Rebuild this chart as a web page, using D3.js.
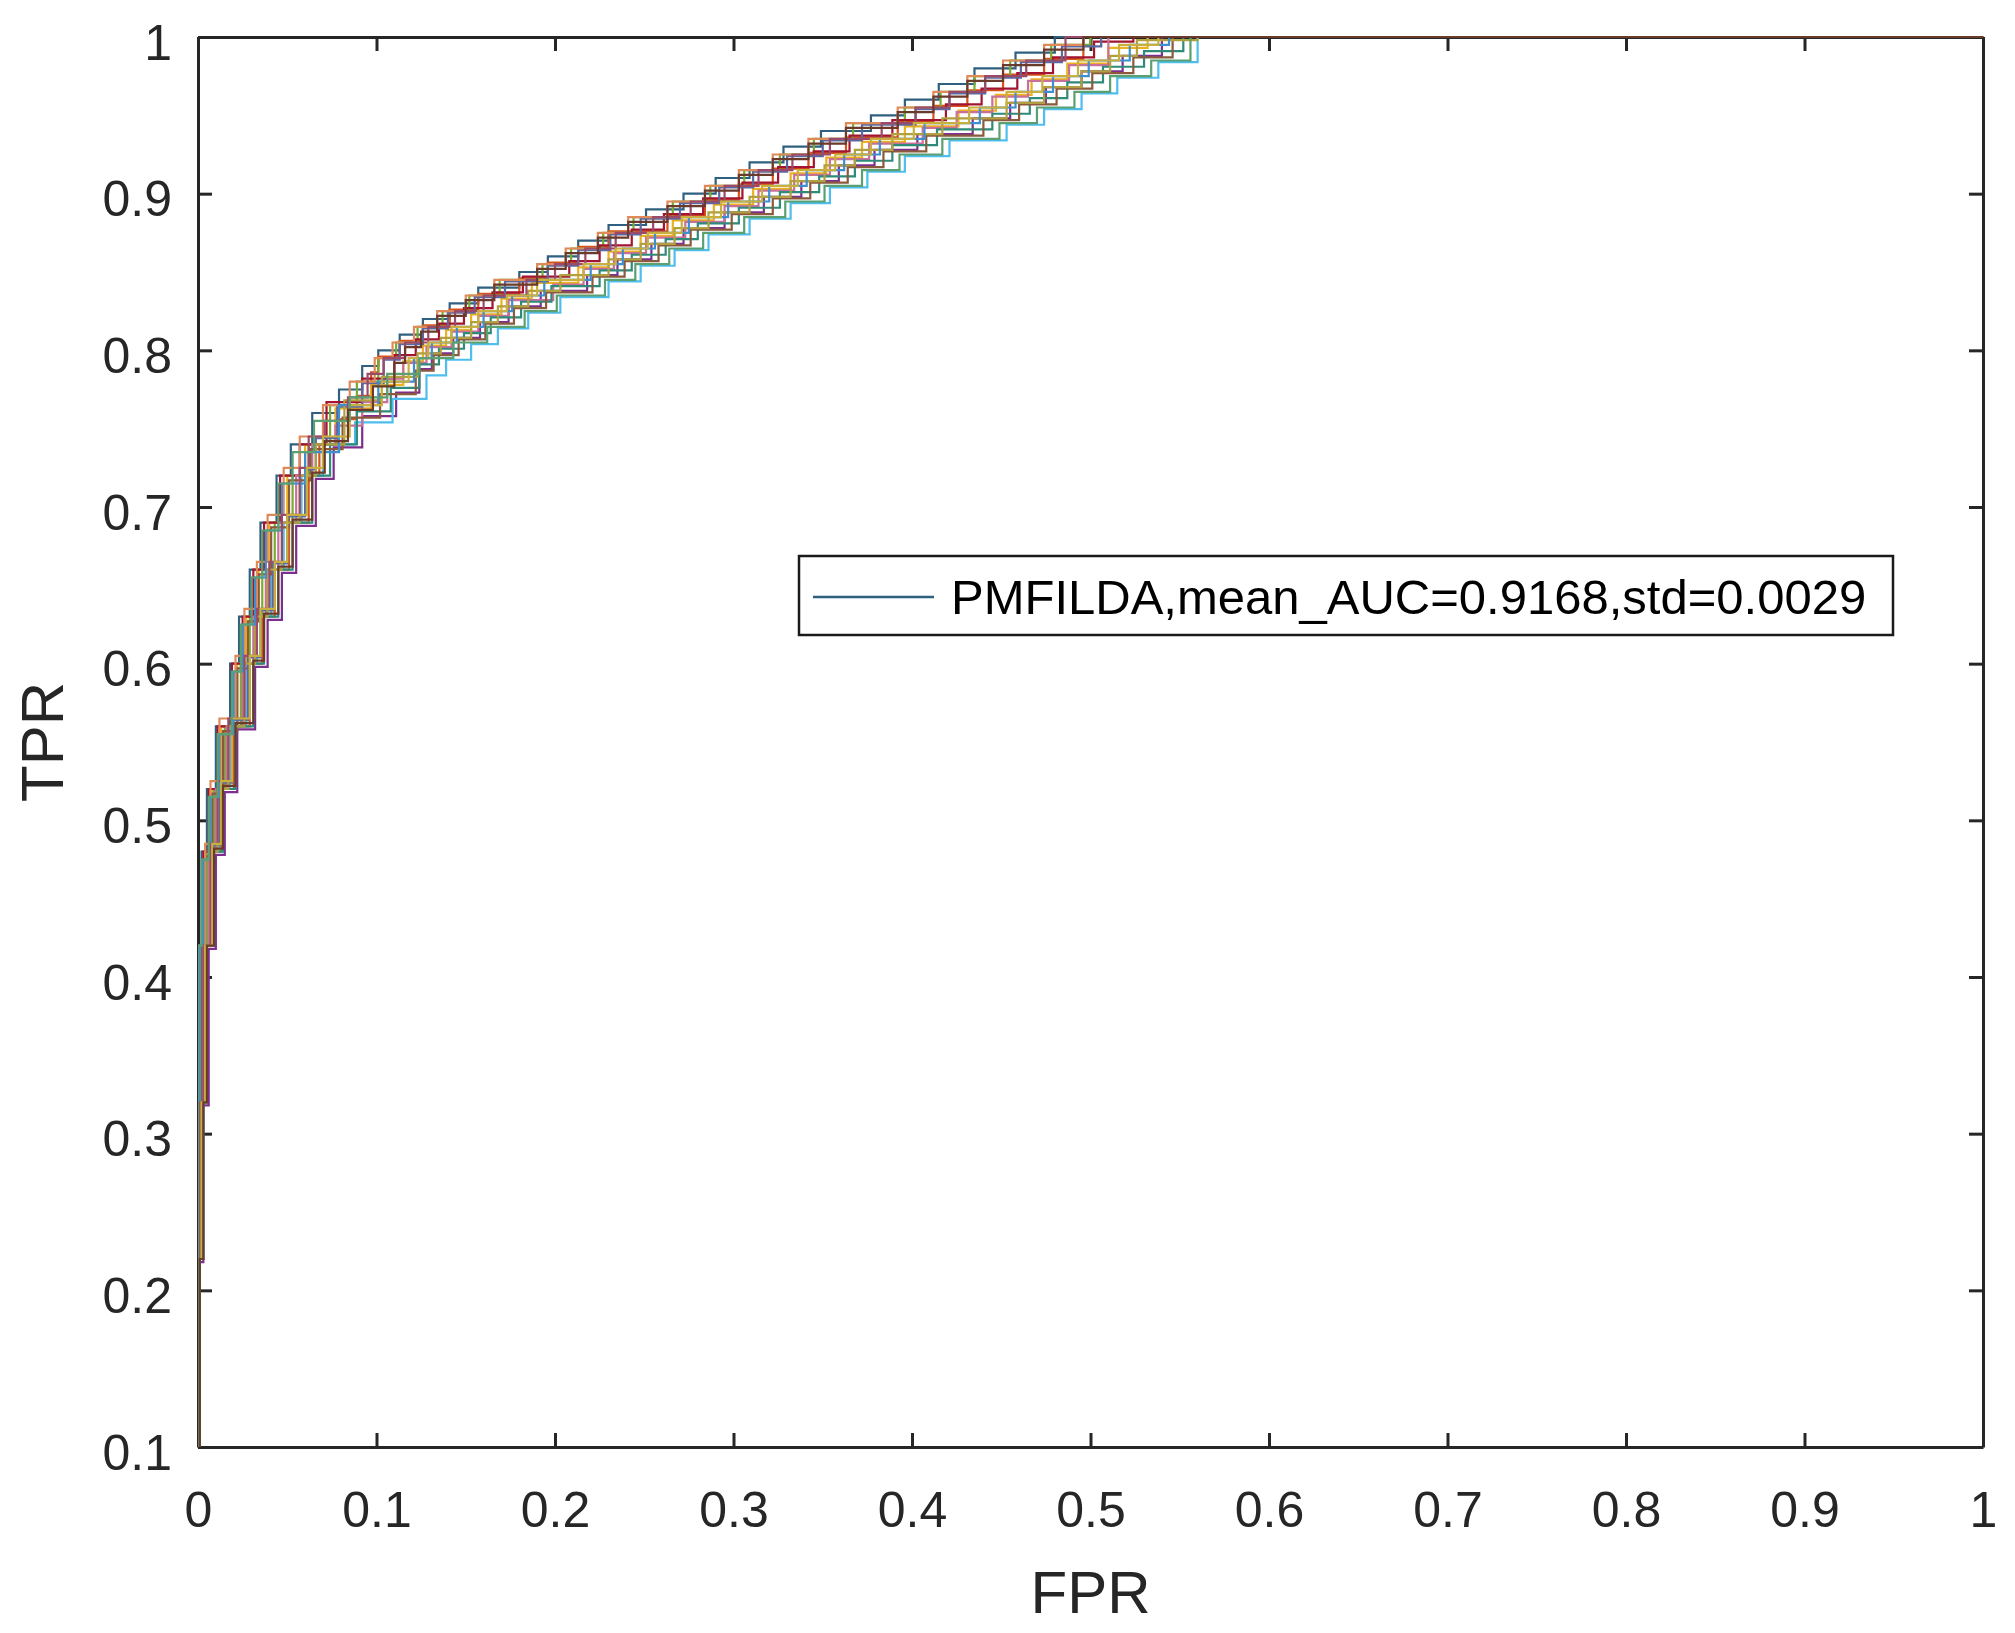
<!DOCTYPE html>
<html>
<head>
<meta charset="utf-8">
<script src="https://cdn.jsdelivr.net/npm/d3@7"></script>
<style>
  body { margin: 0; background: #ffffff; }
  text { font-family: "Liberation Sans", Arial, sans-serif; }
</style>
</head>
<body>
<div id="chart"></div>
<script>
// axis ticks
var fprTicks = [0, 0.1, 0.2, 0.3, 0.4, 0.5, 0.6, 0.7, 0.8, 0.9, 1];
var tprTicks = [0.1, 0.2, 0.3, 0.4, 0.5, 0.6, 0.7, 0.8, 0.9, 1];

var legendLabel = "PMFILDA,mean_AUC=0.9168,std=0.0029";

var runColors = ["#2f6080", "#D95319", "#EDB120", "#7E2F8E", "#77AC30", "#4DBEEE",
  "#A2142F", "#c9709a", "#2e8b7a", "#8b5a3c", "#5a6aa0", "#b0a040",
  "#e08a5a", "#3d8fd0", "#9a4a6a", "#c8b040", "#5aa070", "#6a3a2a"];

// roc corners [fpr, tpr] of each run
var run01 = [[0,0],[0,0.22],[0,0.32],[0,0.42],[0.002,0.48],[0.005,0.52],[0.010,0.56],[0.018,0.60],[0.023,0.63],[0.029,0.66],[0.035,0.69],[0.044,0.72],[0.052,0.74],[0.064,0.76],[0.079,0.775],[0.092,0.79],[0.101,0.80],[0.113,0.81],[0.126,0.82],[0.141,0.83],[0.157,0.84],[0.180,0.85],[0.196,0.86],[0.213,0.87],[0.230,0.88],[0.251,0.89],[0.272,0.90],[0.290,0.91],[0.309,0.92],[0.328,0.93],[0.349,0.94],[0.377,0.95],[0.396,0.96],[0.415,0.97],[0.435,0.98],[0.458,0.99],[0.480,1],[1,1]];
var run02 = [[0,0],[0.001,0.22],[0.002,0.32],[0.005,0.42],[0.008,0.48],[0.013,0.52],[0.020,0.56],[0.029,0.60],[0.036,0.63],[0.043,0.66],[0.051,0.69],[0.062,0.72],[0.068,0.74],[0.078,0.756],[0.089,0.771],[0.097,0.786],[0.101,0.796],[0.113,0.806],[0.126,0.816],[0.141,0.826],[0.157,0.836],[0.180,0.846],[0.196,0.856],[0.213,0.866],[0.230,0.876],[0.263,0.886],[0.284,0.896],[0.303,0.906],[0.322,0.916],[0.342,0.926],[0.363,0.936],[0.392,0.946],[0.412,0.956],[0.431,0.966],[0.451,0.976],[0.474,0.986],[0.496,1],[1,1]];
var run03 = [[0,0],[0,0.22],[0,0.32],[0.002,0.42],[0.004,0.48],[0.008,0.52],[0.013,0.56],[0.022,0.60],[0.027,0.63],[0.034,0.66],[0.040,0.69],[0.050,0.72],[0.060,0.74],[0.077,0.763],[0.097,0.778],[0.115,0.793],[0.126,0.803],[0.139,0.813],[0.153,0.823],[0.170,0.833],[0.187,0.843],[0.213,0.853],[0.230,0.863],[0.248,0.873],[0.266,0.883],[0.289,0.893],[0.311,0.903],[0.332,0.913],[0.352,0.923],[0.372,0.933],[0.396,0.943],[0.426,0.953],[0.447,0.963],[0.467,0.973],[0.487,0.983],[0.510,0.993],[0.532,1],[1,1]];
var run04 = [[0,0],[0.001,0.218],[0.003,0.318],[0.006,0.418],[0.010,0.478],[0.015,0.518],[0.022,0.558],[0.032,0.598],[0.039,0.628],[0.047,0.658],[0.055,0.688],[0.066,0.718],[0.076,0.738],[0.092,0.758],[0.111,0.773],[0.124,0.788],[0.131,0.798],[0.143,0.808],[0.158,0.818],[0.174,0.828],[0.192,0.838],[0.218,0.848],[0.235,0.858],[0.254,0.868],[0.272,0.878],[0.295,0.888],[0.317,0.898],[0.338,0.908],[0.359,0.918],[0.379,0.928],[0.403,0.938],[0.434,0.948],[0.455,0.958],[0.475,0.968],[0.495,0.978],[0.518,0.988],[0.540,1],[1,1]];
var run05 = [[0,0],[0,0.22],[0.001,0.32],[0.002,0.42],[0.005,0.48],[0.009,0.52],[0.015,0.56],[0.024,0.60],[0.029,0.63],[0.036,0.66],[0.043,0.69],[0.053,0.72],[0.062,0.74],[0.074,0.765],[0.089,0.78],[0.101,0.795],[0.111,0.805],[0.123,0.815],[0.137,0.825],[0.152,0.835],[0.169,0.845],[0.193,0.855],[0.209,0.865],[0.227,0.875],[0.244,0.885],[0.266,0.895],[0.287,0.905],[0.306,0.915],[0.326,0.925],[0.345,0.935],[0.367,0.945],[0.396,0.955],[0.416,0.965],[0.435,0.975],[0.455,0.985],[0.478,0.995],[0.500,1],[1,1]];
var run06 = [[0,0],[0,0.22],[0.002,0.32],[0.004,0.42],[0.007,0.48],[0.012,0.52],[0.018,0.56],[0.027,0.60],[0.033,0.63],[0.041,0.66],[0.048,0.69],[0.058,0.72],[0.070,0.74],[0.088,0.754],[0.109,0.769],[0.128,0.784],[0.139,0.794],[0.153,0.804],[0.168,0.814],[0.185,0.824],[0.203,0.834],[0.230,0.844],[0.248,0.854],[0.267,0.864],[0.286,0.874],[0.309,0.884],[0.332,0.894],[0.354,0.904],[0.375,0.914],[0.396,0.924],[0.421,0.934],[0.453,0.944],[0.474,0.954],[0.495,0.964],[0.515,0.974],[0.538,0.984],[0.560,1],[1,1]];
var run07 = [[0,0],[0,0.22],[0,0.32],[0.001,0.42],[0.003,0.48],[0.006,0.52],[0.011,0.56],[0.019,0.60],[0.025,0.63],[0.031,0.66],[0.037,0.69],[0.046,0.72],[0.057,0.74],[0.072,0.767],[0.092,0.782],[0.110,0.797],[0.122,0.807],[0.135,0.817],[0.149,0.827],[0.165,0.837],[0.182,0.847],[0.208,0.857],[0.225,0.867],[0.243,0.877],[0.261,0.887],[0.283,0.897],[0.305,0.907],[0.325,0.917],[0.345,0.927],[0.365,0.937],[0.389,0.947],[0.419,0.957],[0.439,0.967],[0.459,0.977],[0.479,0.987],[0.502,0.997],[0.524,1],[1,1]];
var run08 = [[0,0],[0,0.22],[0.001,0.32],[0.003,0.42],[0.006,0.48],[0.010,0.52],[0.016,0.56],[0.025,0.60],[0.031,0.63],[0.038,0.66],[0.045,0.69],[0.055,0.72],[0.064,0.74],[0.077,0.752],[0.092,0.767],[0.106,0.782],[0.115,0.792],[0.128,0.802],[0.142,0.812],[0.157,0.822],[0.174,0.832],[0.199,0.842],[0.216,0.852],[0.233,0.862],[0.251,0.872],[0.273,0.882],[0.295,0.892],[0.314,0.902],[0.334,0.912],[0.354,0.922],[0.376,0.932],[0.406,0.942],[0.425,0.952],[0.445,0.962],[0.465,0.972],[0.488,0.982],[0.510,1],[1,1]];
var run09 = [[0,0],[0.001,0.22],[0.003,0.32],[0.005,0.42],[0.009,0.48],[0.014,0.52],[0.021,0.56],[0.031,0.60],[0.037,0.63],[0.045,0.66],[0.053,0.69],[0.064,0.72],[0.074,0.74],[0.089,0.761],[0.108,0.776],[0.124,0.791],[0.135,0.801],[0.149,0.811],[0.164,0.821],[0.181,0.831],[0.198,0.841],[0.225,0.851],[0.243,0.861],[0.262,0.871],[0.280,0.881],[0.303,0.891],[0.326,0.901],[0.348,0.911],[0.368,0.921],[0.389,0.931],[0.414,0.941],[0.445,0.951],[0.466,0.961],[0.487,0.971],[0.507,0.981],[0.530,0.991],[0.552,1],[1,1]];
var run10 = [[0,0],[0,0.22],[0,0.32],[0.002,0.42],[0.004,0.477],[0.008,0.517],[0.014,0.557],[0.022,0.597],[0.028,0.627],[0.034,0.657],[0.041,0.687],[0.051,0.717],[0.063,0.737],[0.081,0.757],[0.102,0.772],[0.122,0.787],[0.132,0.797],[0.146,0.807],[0.161,0.817],[0.177,0.827],[0.195,0.837],[0.221,0.847],[0.239,0.857],[0.258,0.867],[0.276,0.877],[0.299,0.887],[0.322,0.897],[0.343,0.907],[0.364,0.917],[0.384,0.927],[0.408,0.937],[0.440,0.947],[0.460,0.957],[0.481,0.967],[0.501,0.977],[0.524,0.987],[0.546,1],[1,1]];
var run11 = [[0,0],[0,0.22],[0.002,0.32],[0.004,0.42],[0.008,0.484],[0.012,0.524],[0.019,0.564],[0.028,0.604],[0.035,0.634],[0.042,0.664],[0.050,0.694],[0.060,0.724],[0.066,0.744],[0.078,0.764],[0.092,0.779],[0.104,0.794],[0.113,0.804],[0.126,0.814],[0.140,0.824],[0.155,0.834],[0.172,0.844],[0.196,0.854],[0.213,0.864],[0.231,0.874],[0.248,0.884],[0.270,0.894],[0.292,0.904],[0.311,0.914],[0.330,0.924],[0.350,0.934],[0.372,0.944],[0.402,0.954],[0.421,0.964],[0.441,0.974],[0.461,0.984],[0.484,0.994],[0.506,1],[1,1]];
var run12 = [[0,0],[0,0.22],[0.001,0.32],[0.003,0.42],[0.007,0.48],[0.011,0.52],[0.017,0.56],[0.026,0.60],[0.032,0.63],[0.039,0.66],[0.047,0.69],[0.057,0.72],[0.066,0.74],[0.082,0.768],[0.103,0.783],[0.123,0.798],[0.136,0.808],[0.153,0.818],[0.168,0.828],[0.185,0.838],[0.203,0.848],[0.230,0.858],[0.248,0.868],[0.267,0.878],[0.286,0.888],[0.309,0.898],[0.332,0.908],[0.351,0.918],[0.368,0.928],[0.389,0.938],[0.417,0.948],[0.453,0.958],[0.474,0.968],[0.495,0.978],[0.511,0.988],[0.526,0.998],[0.560,1],[1,1]];
var run13 = [[0,0],[0,0.22],[0,0.32],[0.001,0.42],[0.004,0.485],[0.007,0.525],[0.012,0.565],[0.021,0.605],[0.026,0.635],[0.033,0.665],[0.039,0.695],[0.048,0.725],[0.057,0.745],[0.070,0.765],[0.085,0.78],[0.099,0.795],[0.109,0.805],[0.121,0.815],[0.134,0.825],[0.150,0.835],[0.166,0.845],[0.190,0.855],[0.206,0.865],[0.224,0.875],[0.241,0.885],[0.263,0.895],[0.284,0.905],[0.303,0.915],[0.322,0.925],[0.342,0.935],[0.363,0.945],[0.392,0.955],[0.412,0.965],[0.431,0.975],[0.451,0.985],[0.474,0.995],[0.496,1],[1,1]];
var run14 = [[0,0],[0,0.22],[0,0.32],[0.001,0.42],[0.003,0.475],[0.007,0.515],[0.012,0.555],[0.020,0.595],[0.025,0.625],[0.032,0.655],[0.038,0.685],[0.047,0.715],[0.060,0.735],[0.079,0.765],[0.101,0.78],[0.121,0.795],[0.131,0.805],[0.145,0.815],[0.160,0.825],[0.176,0.835],[0.194,0.845],[0.220,0.855],[0.238,0.865],[0.256,0.875],[0.275,0.885],[0.297,0.895],[0.320,0.905],[0.341,0.915],[0.362,0.925],[0.382,0.935],[0.407,0.945],[0.438,0.955],[0.458,0.965],[0.479,0.975],[0.499,0.985],[0.522,0.995],[0.544,1],[1,1]];
var run15 = [[0,0],[0,0.22],[0.001,0.32],[0.003,0.42],[0.007,0.485],[0.011,0.525],[0.017,0.565],[0.026,0.605],[0.033,0.635],[0.040,0.665],[0.047,0.695],[0.057,0.725],[0.062,0.745],[0.071,0.755],[0.084,0.77],[0.095,0.785],[0.104,0.795],[0.116,0.805],[0.129,0.815],[0.144,0.825],[0.160,0.835],[0.184,0.845],[0.200,0.855],[0.217,0.865],[0.234,0.875],[0.255,0.885],[0.276,0.895],[0.295,0.905],[0.314,0.915],[0.333,0.925],[0.354,0.935],[0.383,0.945],[0.402,0.955],[0.421,0.965],[0.441,0.975],[0.464,0.985],[0.486,1],[1,1]];
var run16 = [[0,0],[0,0.22],[0.002,0.32],[0.004,0.42],[0.008,0.485],[0.013,0.525],[0.019,0.565],[0.029,0.605],[0.035,0.635],[0.043,0.665],[0.050,0.695],[0.061,0.725],[0.070,0.745],[0.085,0.765],[0.103,0.78],[0.118,0.795],[0.129,0.805],[0.142,0.815],[0.157,0.825],[0.173,0.835],[0.190,0.845],[0.216,0.855],[0.234,0.865],[0.252,0.875],[0.271,0.885],[0.293,0.895],[0.316,0.905],[0.336,0.915],[0.357,0.925],[0.377,0.935],[0.401,0.945],[0.432,0.955],[0.453,0.965],[0.473,0.975],[0.493,0.985],[0.516,0.995],[0.538,1],[1,1]];
var run17 = [[0,0],[0,0.22],[0,0.32],[0,0.42],[0.002,0.475],[0.006,0.515],[0.011,0.555],[0.019,0.595],[0.024,0.625],[0.030,0.655],[0.036,0.685],[0.045,0.715],[0.053,0.735],[0.065,0.755],[0.085,0.77],[0.106,0.785],[0.124,0.795],[0.143,0.805],[0.162,0.815],[0.183,0.825],[0.201,0.835],[0.228,0.845],[0.245,0.855],[0.264,0.865],[0.283,0.875],[0.306,0.885],[0.329,0.895],[0.351,0.905],[0.372,0.915],[0.393,0.925],[0.417,0.935],[0.449,0.945],[0.470,0.955],[0.491,0.965],[0.511,0.975],[0.534,0.985],[0.556,1],[1,1]];
var run18 = [[0,0],[0.001,0.22],[0.003,0.32],[0.005,0.42],[0.009,0.482],[0.014,0.522],[0.021,0.562],[0.031,0.602],[0.037,0.632],[0.045,0.662],[0.053,0.692],[0.064,0.722],[0.071,0.742],[0.084,0.762],[0.098,0.777],[0.110,0.792],[0.116,0.802],[0.125,0.812],[0.134,0.822],[0.150,0.832],[0.166,0.842],[0.190,0.852],[0.206,0.862],[0.224,0.872],[0.241,0.882],[0.263,0.892],[0.284,0.902],[0.303,0.912],[0.322,0.922],[0.342,0.932],[0.363,0.942],[0.392,0.952],[0.412,0.962],[0.431,0.972],[0.451,0.982],[0.474,0.992],[0.496,1],[1,1]];

var runs = [run01, run02, run03, run04, run05, run06, run07, run08, run09,
  run10, run11, run12, run13, run14, run15, run16, run17, run18];

var width = 2015;
var height = 1633;
var plotLeft = 198;
var plotRight = 1983;
var plotTop = 37;
var plotBottom = 1447;
var axisColor = "#262626";
var tickLen = 14;

var xScale = d3.scaleLinear().domain([0, 1]).range([plotLeft, plotRight]);
var yScale = d3.scaleLinear().domain([0.1, 1]).range([plotBottom, plotTop]);

var svg = d3.select("#chart").append("svg")
  .attr("width", width)
  .attr("height", height)
  .style("display", "block");

svg.append("defs").append("clipPath")
  .attr("id", "plotClip")
  .append("rect")
  .attr("x", plotLeft)
  .attr("y", plotTop - 2)
  .attr("width", plotRight - plotLeft)
  .attr("height", plotBottom - plotTop + 2);

var fmt = function(d) { return d == 0 || d == 1 ? String(d) : d.toFixed(1); };

function styleAxis(g) {
  g.select(".domain").attr("stroke", axisColor).attr("stroke-width", 3);
  g.selectAll(".tick line").attr("stroke", axisColor).attr("stroke-width", 3);
  g.selectAll(".tick text")
    .attr("fill", axisColor)
    .style("font-size", "50px")
    .style("font-family", "'Liberation Sans', Arial, sans-serif");
}

// axes (drawn under the curves, like matlab)
var gBottom = svg.append("g")
  .attr("transform", "translate(0," + plotBottom + ")")
  .call(d3.axisBottom(xScale).tickValues(fprTicks).tickFormat(fmt)
    .tickSizeInner(-tickLen).tickSizeOuter(0).tickPadding(44));
styleAxis(gBottom);

var gTop = svg.append("g")
  .attr("transform", "translate(0," + plotTop + ")")
  .call(d3.axisTop(xScale).tickValues(fprTicks).tickFormat("")
    .tickSizeInner(-tickLen).tickSizeOuter(0));
styleAxis(gTop);

var gLeft = svg.append("g")
  .attr("transform", "translate(" + plotLeft + ",0)")
  .call(d3.axisLeft(yScale).tickValues(tprTicks).tickFormat(fmt)
    .tickSizeInner(-tickLen).tickSizeOuter(0).tickPadding(26));
styleAxis(gLeft);
gLeft.selectAll(".tick text").attr("dy", "0.44em");

var gRight = svg.append("g")
  .attr("transform", "translate(" + plotRight + ",0)")
  .call(d3.axisRight(yScale).tickValues(tprTicks).tickFormat("")
    .tickSizeInner(-tickLen).tickSizeOuter(0));
styleAxis(gRight);

// roc curves
var line = d3.line()
  .x(d => xScale(d[0]))
  .y(d => yScale(d[1]))
  .curve(d3.curveStepAfter);

svg.append("g")
  .attr("clip-path", "url(#plotClip)")
  .selectAll("path")
  .data(runs)
  .enter()
  .append("path")
  .attr("d", line)
  .attr("fill", "none")
  .attr("stroke", (d, i) => runColors[i])
  .attr("stroke-width", 2.2);

// axis labels
svg.append("text")
  .attr("x", (plotLeft + plotRight) / 2)
  .attr("y", 1613)
  .attr("text-anchor", "middle")
  .attr("fill", axisColor)
  .style("font-size", "60px")
  .text("FPR");

svg.append("text")
  .attr("transform", "translate(63," + (plotTop + plotBottom) / 2 + ") rotate(-90)")
  .attr("text-anchor", "middle")
  .attr("fill", axisColor)
  .style("font-size", "60px")
  .text("TPR");

// legend
var legend = svg.append("g");
legend.append("rect")
  .attr("x", 799)
  .attr("y", 556)
  .attr("width", 1094)
  .attr("height", 79)
  .attr("fill", "#ffffff")
  .attr("stroke", "#1a1a1a")
  .attr("stroke-width", 2.5);
legend.append("line")
  .attr("x1", 813)
  .attr("x2", 934)
  .attr("y1", 597)
  .attr("y2", 597)
  .attr("stroke", runColors[0])
  .attr("stroke-width", 2.5);
legend.append("text")
  .attr("x", 951)
  .attr("y", 614)
  .attr("fill", "#000000")
  .style("font-size", "49px")
  .text(legendLabel);
</script>
</body>
</html>
